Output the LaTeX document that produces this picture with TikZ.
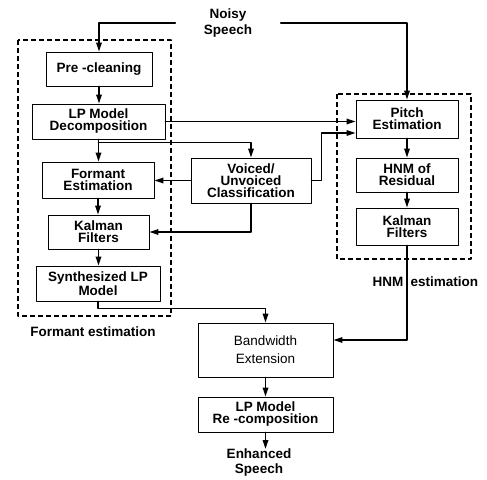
\documentclass[tikz,border=0pt]{standalone}
\usepackage{fontspec}
\setmainfont{Liberation Sans}
\usetikzlibrary{arrows.meta}

\begin{document}
\begin{tikzpicture}[x=1pt,y=-1pt,font=\bfseries\fontsize{13.5}{12}\selectfont,line join=round,line cap=round,>={Triangle[length=9pt,width=5.5pt]},
	box/.style={draw,line width=0.9pt,align=center,inner sep=0pt},
	link/.style={->,line width=1.6pt},
	group/.style={draw,line width=1.5pt,line cap=butt,dash pattern=on 5pt off 3pt}]
	\useasboundingbox (0,0) rectangle (487,479);
	%Formant branch
	\node[box,minimum width=106pt,minimum height=34pt] (pre) at (99,69) {Pre -cleaning};
	\node[box,minimum width=133pt,minimum height=35pt] (lpd) at (98.5,121.5) {LP Model\\Decomposition};
	\node[box,minimum width=112pt,minimum height=36pt] (fest) at (98,180) {Formant\\Estimation};
	\node[box,minimum width=101pt,minimum height=34pt] (kall) at (98.5,232) {Kalman\\Filters};
	\node[box,minimum width=124pt,minimum height=35pt] (synth) at (98,283.5) {Synthesized LP\\Model};
	\node[box,minimum width=120pt,minimum height=45pt] (vuc) at (251,180.5) {Voiced/\\Unvoiced\\Classification};
	%HNM branch
	\node[box,minimum width=102pt,minimum height=38pt] (pitch) at (407,119) {Pitch\\Estimation};
	\node[box,minimum width=102pt,minimum height=34pt] (hnm) at (407,175) {HNM of\\Residual};
	\node[box,minimum width=102pt,minimum height=37pt] (kalr) at (407,226.5) {Kalman\\Filters};
	%Output
	\node[box,minimum width=135pt,minimum height=54pt,font=\mdseries\fontsize{13.5}{18}\selectfont] (bwe) at (265.5,350) {Bandwidth\\Extension};
	\node[box,minimum width=135pt,minimum height=35pt] (lprc) at (265.5,414.5) {LP Model\\Re -composition};
	%Dashed groups and labels
	\draw[group] (18,40) rectangle (171,316);
	\draw[group] (337,94) rectangle (471,259);
	\node[align=center,inner sep=0pt,minimum width=105pt,font=\bfseries\fontsize{13.5}{16}\selectfont] (noisy) at (228,23) {Noisy\\Speech};
	\node (flab) at (93,332) {Formant estimation};
	\node[anchor=east] (hlab) at (407,282) {HNM};
	\node[anchor=west] (elab) at (407,282) {estimation};
	\node[anchor=north,align=center,inner sep=0pt,font=\bfseries\fontsize{13.5}{14.5}\selectfont] (enh) at (259,449) {Enhanced\\Speech};
	%Connectors
	\coordinate (split) at ([yshift=-3pt]lpd.south);
	\coordinate (pin) at ([yshift=-14pt]pitch.west);
	\draw[link] (noisy.west) -| (pre.north);
	\draw[link] (noisy.east) -| (pitch.north);
	\draw[link] (pre.south) -- (pre.south |- lpd.north);
	\draw[link] (lpd.east) -- (lpd.east -| pitch.west);
	\draw[link] (lpd.south) -- (lpd.south |- fest.north);
	\draw[link] (split) -| (vuc.north);
	\draw[link] (vuc.west) -- (vuc.west -| fest.east);
	\draw[link] (vuc.south) |- (kall.east);
	\draw[link] (vuc.east) -- ++(10,0) |- (pin);
	\draw[link] (fest.south) -- (fest.south |- kall.north);
	\draw[link] (kall.south) -- (kall.south |- synth.north);
	\draw[link] (pitch.south) -- (pitch.south |- hnm.north);
	\draw[link] (hnm.south) -- (hnm.south |- kalr.north);
	\draw[link] (synth.south) -- ++(0,7) -| (bwe.north);
	\draw[link] (kalr.south) |- ([yshift=10pt]bwe.east);
	\draw[link] (bwe.south) -- (bwe.south |- lprc.north);
	\draw[link] (lprc.south) -- (lprc.south |- enh.north);
\end{tikzpicture}
\end{document}
